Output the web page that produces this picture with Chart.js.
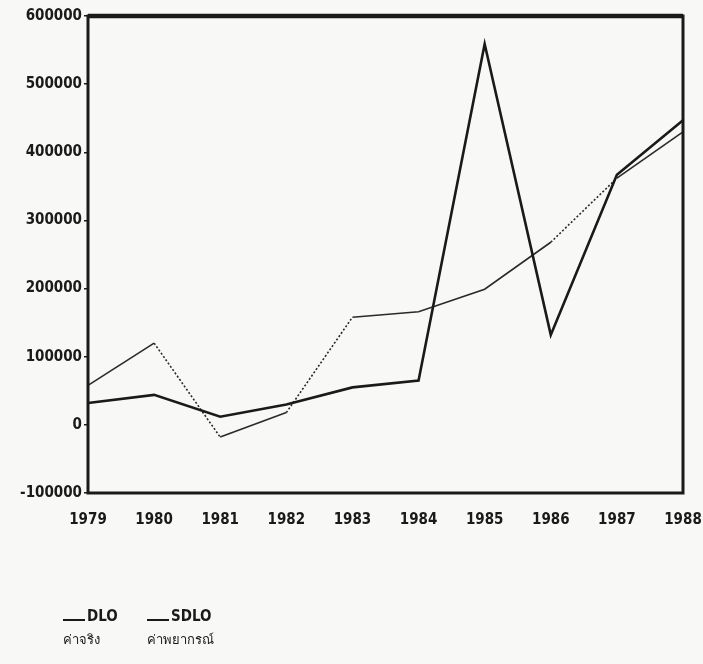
<!DOCTYPE html>
<html>
<head>
<meta charset="utf-8">
<script src="https://cdn.jsdelivr.net/npm/chart.js@4"></script>
<style>
  html, body { margin: 0; padding: 0; background: #f8f8f6; }
  #wrap { position: relative; width: 703px; height: 664px; }
  .leg { position: absolute; font-family: 'Liberation Sans Narrow', 'DejaVu Sans Condensed', sans-serif; font-weight: bold; color: #1a1a1a; }
  .leg .ln { display: inline-block; width: 22px; border-bottom: 2px solid #1a1a1a; margin-right: 2px; vertical-align: baseline; }
  .leg .nm { font-size: 15px; }
  .leg .th { font-size: 13px; font-weight: normal; margin-top: 4px; }
</style>
</head>
<body>
<div id="wrap">
  <canvas id="chart" width="703" height="664"></canvas>
  <div id="legend"></div>
</div>
<script>
// ข้อมูล
const years = ['1979', '1980', '1981', '1982', '1983', '1984', '1985', '1986', '1987', '1988'];
const dlo = [32000, 44000, 12000, 30000, 55000, 65000, 559000, 132000, 367000, 447000];
const sdlo = [58000, 120000, -18000, 18000, 158000, 166000, 199000, 268000, 362000, 430000];
const seriesNames = ['DLO', 'SDLO'];
const seriesThai = ['ค่าจริง', 'ค่าพยากรณ์'];

const ink = '#1a1a1a';

// กรอบรอบพื้นที่กราฟ
const framePlugin = {
  id: 'frame',
  afterDraw(chart) {
    const a = chart.chartArea;
    const ctx = chart.ctx;
    ctx.save();
    ctx.strokeStyle = ink;
    ctx.lineWidth = 3;
    ctx.strokeRect(a.left, a.top, a.right - a.left, a.bottom - a.top);
    ctx.lineWidth = 4.5;
    ctx.beginPath();
    ctx.moveTo(a.left, a.top);
    ctx.lineTo(a.right, a.top);
    ctx.stroke();
    ctx.restore();
  }
};

const ctx = document.getElementById('chart').getContext('2d');
const chart = new Chart(ctx, {
  type: 'line',
  data: {
    labels: years,
    datasets: [{
      label: seriesNames[0],
      data: dlo,
      borderColor: ink,
      borderWidth: 2.6,
      pointRadius: 0,
      tension: 0
    }, {
      label: seriesNames[1],
      data: sdlo,
      borderColor: '#2a2a2a',
      borderWidth: 1.6,
      pointRadius: 0,
      tension: 0,
      segment: {
        borderDash: c => Math.abs(c.p1.parsed.y - c.p0.parsed.y) > 90000 ? [2, 2] : undefined
      }
    }]
  },
  options: {
    responsive: false,
    animation: false,
    layout: { padding: { left: 0, right: 20, top: 16, bottom: 131 } },
    plugins: {
      legend: { display: false },
      tooltip: { enabled: false }
    },
    scales: {
      x: {
        grid: { display: false },
        border: { display: false },
        ticks: {
          color: ink,
          maxRotation: 0,
          autoSkip: false,
          padding: 10,
          font: { family: "'Liberation Sans Narrow', 'DejaVu Sans Condensed', sans-serif", size: 15, weight: 'bold' }
        },
        afterFit(scale) {
          scale.height = 40;
          scale.paddingLeft = 0;
          scale.paddingRight = 0;
        }
      },
      y: {
        min: -100000,
        max: 600000,
        grid: { drawOnChartArea: false, color: ink, tickLength: 4, lineWidth: 1.5 },
        border: { display: false },
        ticks: {
          stepSize: 100000,
          color: ink,
          padding: 2,
          font: { family: "'Liberation Sans Narrow', 'DejaVu Sans Condensed', sans-serif", size: 15, weight: 'bold' },
          callback: v => String(v)
        },
        afterFit(scale) {
          scale.width = 88;
          scale.paddingTop = 0;
          scale.paddingBottom = 0;
        }
      }
    }
  },
  plugins: [framePlugin]
});

// คำอธิบายกราฟ
const legendPos = [63, 147];
const legendEl = document.getElementById('legend');
seriesNames.forEach((name, i) => {
  const d = document.createElement('div');
  d.className = 'leg';
  d.style.left = legendPos[i] + 'px';
  d.style.top = '606px';
  d.innerHTML = '<span class="ln"></span><span class="nm">' + name + '</span><div class="th">' + seriesThai[i] + '</div>';
  legendEl.appendChild(d);
});
</script>
</body>
</html>
